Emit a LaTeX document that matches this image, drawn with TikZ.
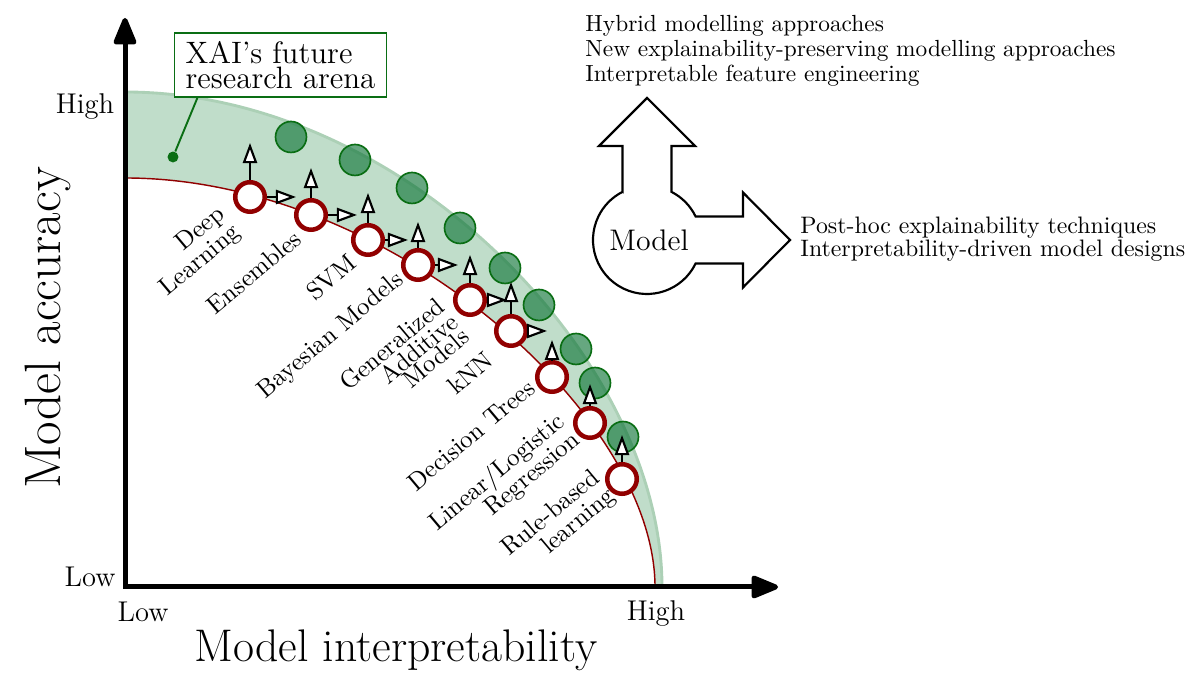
\documentclass[tikz,border=0pt]{standalone}
\usetikzlibrary{arrows.meta}

\definecolor{bandgreen}{RGB}{192,221,202}
\definecolor{bandedge}{RGB}{172,208,182}
\definecolor{darkgreen}{RGB}{10,110,20}
\definecolor{ballgreen}{RGB}{20,120,60}
\definecolor{darkred}{RGB}{145,0,0}

\begin{document}
\begin{tikzpicture}[x=42pt, y=42pt,
	redball/.style={circle, draw=darkred, line width=1.9pt, fill=white, inner sep=0pt, minimum size=12.4pt},
	greenball/.style={circle, draw=darkgreen, line width=0.7pt, fill=ballgreen, fill opacity=0.65, inner sep=0pt, minimum size=13pt},
	lbl/.style={rotate=40, align=right, font=\fontsize{10.5}{10}\selectfont},
	nudge/.style={-{Triangle[length=8.5pt, width=6pt, fill=white]}, line width=0.9pt},
	axistip/.style={line width=2.1pt, {Triangle[length=13pt, width=10pt, round]}-{Triangle[length=13pt, width=10pt, round]}}]
	\useasboundingbox (-1.25,-0.98) rectangle (10.64,5.87);

	% research arena and frontier
	\fill[bandgreen] (0,4.95) .. controls (2.79,4.95) and (5.37,2.28) .. (5.37,0) -- (5.30,0) .. controls (5.30,1.72) and (2.65,4.09) .. (0,4.09) -- cycle;
	\draw[bandedge, line width=1.2pt] (0,4.95) .. controls (2.79,4.95) and (5.37,2.28) .. (5.37,0);
	\draw[darkred, line width=0.6pt] (0,4.09) .. controls (2.65,4.09) and (5.30,1.72) .. (5.30,0);

	% axes
	\coordinate (O) at (0,0);
	\coordinate (ytop) at (0,5.69);
	\coordinate (xend) at (6.53,0);
	\draw[axistip] (ytop) -- (O) -- (xend);

	\node[font=\large] (yhigh) at (-0.40,4.80) {High};
	\node[font=\large] (ylow) at (-0.35,0.10) {Low};
	\node[font=\large] (xlow) at (0.18,-0.25) {Low};
	\node[font=\large] (xhigh) at (5.31,-0.27) {High};
	\node[rotate=90, font=\fontsize{21.5}{24}\selectfont] (acc) at (-0.77,2.59) {Model accuracy};
	\node[font=\fontsize{19.2}{22}\selectfont] (interp) at (2.71,-0.63) {Model interpretability};

	% XAI box
	\node[draw=darkgreen, line width=0.8pt, fill=white, align=left, inner xsep=4.7pt, inner ysep=3.5pt, font=\fontsize{13}{10.5}\selectfont] (xai) at (1.555,5.22) {XAI's future\\research arena};
	\node[circle, fill=darkgreen, inner sep=0pt, minimum size=4.6pt] (dot) at (0.48,4.30) {};
	\draw[darkgreen, line width=0.8pt] (dot) -- ([xshift=10pt]xai.south west);

	% future models
	\node[greenball] (g1) at (1.66,4.50) {};
	\node[greenball] (g2) at (2.30,4.27) {};
	\node[greenball] (g3) at (2.87,3.99) {};
	\node[greenball] (g4) at (3.35,3.59) {};
	\node[greenball] (g5) at (3.80,3.19) {};
	\node[greenball] (g6) at (4.14,2.82) {};
	\node[greenball] (g7) at (4.51,2.38) {};
	\node[greenball] (g8) at (4.70,2.04) {};
	\node[greenball] (g9) at (4.98,1.50) {};

	% current models
	\node[redball] (r1) at (1.25,3.90) {};
	\node[redball] (r2) at (1.86,3.72) {};
	\node[redball] (r3) at (2.43,3.47) {};
	\node[redball] (r4) at (2.93,3.22) {};
	\node[redball] (r5) at (3.45,2.87) {};
	\node[redball] (r6) at (3.86,2.56) {};
	\node[redball] (r7) at (4.27,2.10) {};
	\node[redball] (r8) at (4.65,1.64) {};
	\node[redball] (r9) at (4.97,1.08) {};

	\coordinate (u1) at (1.25,4.44);
	\coordinate (u2) at (1.86,4.19);
	\coordinate (u3) at (2.43,3.94);
	\coordinate (u4) at (2.93,3.65);
	\coordinate (u5) at (3.45,3.32);
	\coordinate (u6) at (3.86,3.05);
	\coordinate (u7) at (4.27,2.47);
	\coordinate (u8) at (4.65,2.03);
	\coordinate (u9) at (4.97,1.52);

	\coordinate (t1) at (1.71,3.90);
	\coordinate (t2) at (2.32,3.72);
	\coordinate (t3) at (2.83,3.47);
	\coordinate (t4) at (3.33,3.22);
	\coordinate (t5) at (3.82,2.87);
	\coordinate (t6) at (4.22,2.56);

	\draw[nudge] (r1) -- (u1);
	\draw[nudge] (r2) -- (u2);
	\draw[nudge] (r3) -- (u3);
	\draw[nudge] (r4) -- (u4);
	\draw[nudge] (r5) -- (u5);
	\draw[nudge] (r6) -- (u6);
	\draw[nudge] (r7) -- (u7);
	\draw[nudge] (r8) -- (u8);
	\draw[nudge] (r9) -- (u9);

	\draw[nudge] (r1) -- (t1);
	\draw[nudge] (r2) -- (t2);
	\draw[nudge] (r3) -- (t3);
	\draw[nudge] (r4) -- (t4);
	\draw[nudge] (r5) -- (t5);
	\draw[nudge] (r6) -- (t6);

	\node[lbl] (deep) at (0.68,3.35) {Deep\\Learning};
	\node[lbl] (ens) at (1.29,3.15) {Ensembles};
	\node[lbl] (svm) at (2.06,3.10) {SVM};
	\node[lbl] (bayes) at (2.06,2.51) {Bayesian Models};
	\node[lbl, font=\fontsize{10.5}{7.5}\selectfont] (gam) at (2.79,2.28) {Generalized\\Additive\\Models};
	\node[lbl] (knn) at (3.45,2.14) {kNN};
	\node[lbl] (dt) at (3.46,1.52) {Decision Trees};
	\node[lbl] (linreg) at (3.80,1.05) {Linear/Logistic\\Regression};
	\node[lbl] (rule) at (4.34,0.64) {Rule-based\\learning};

	% model and the two ways out
	\draw[line width=0.9pt, fill=white] (4.975,3.951) -- (4.975,4.41) -- (4.74,4.41) -- (5.22,4.89) -- (5.70,4.41) -- (5.465,4.41) -- (5.465,3.951)
		arc[start angle=63, end angle=25.8, radius=0.54] -- (6.18,3.705) -- (6.18,3.945) -- (6.65,3.47) -- (6.18,2.995) -- (6.18,3.235) -- (5.706,3.235)
		arc[start angle=-25.8, end angle=-243, radius=0.54] -- cycle;
	\node[font=\fontsize{12.5}{14}\selectfont] (model) at (5.24,3.47) {Model};

	\node[anchor=west, align=left, inner sep=0pt, font=\fontsize{9.8}{10.5}\selectfont] (ante) at (4.60,5.36) {Hybrid modelling approaches\\New explainability-preserving modelling approaches\\Interpretable feature engineering};
	\node[anchor=west, align=left, inner sep=0pt, font=\fontsize{10}{9.7}\selectfont] (posthoc) at (6.75,3.48) {Post-hoc explainability techniques\\Interpretability-driven model designs};
\end{tikzpicture}
\end{document}
